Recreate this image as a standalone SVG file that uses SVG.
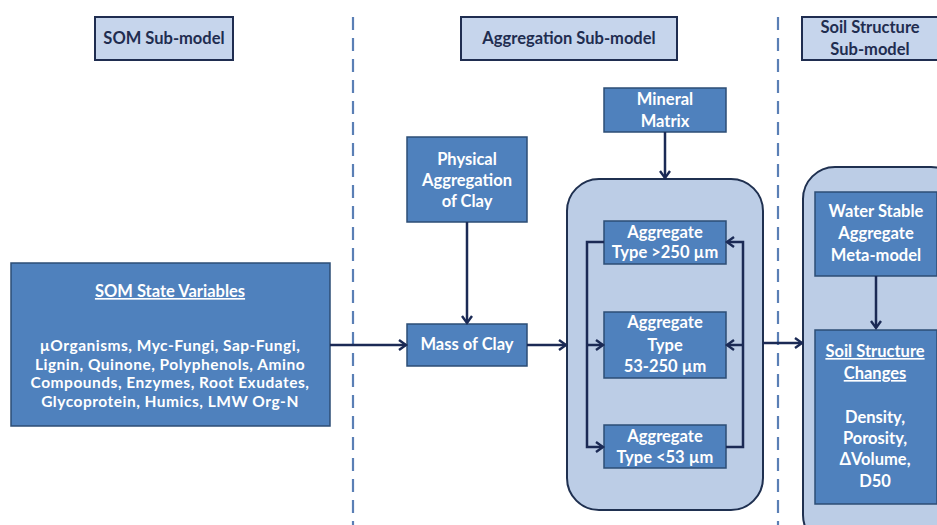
<svg xmlns="http://www.w3.org/2000/svg" width="937" height="525" viewBox="0 0 937 525">
<defs>
<marker id="arr" markerWidth="12" markerHeight="12" refX="9" refY="6" orient="auto" markerUnits="userSpaceOnUse">
<path d="M2,1 L9,6 L2,11" fill="none" stroke="#1b2a55" stroke-width="2.4"/>
</marker>
<style>
.title{fill:#c6d5ec;stroke:#1f2d50;stroke-width:2}
.tt{font-family:Lato,"Liberation Sans",sans-serif;font-weight:bold;font-size:16.5px;fill:#1f2d50;text-anchor:middle}
.box{fill:#4f81bd;stroke:#2c4d75;stroke-width:1.5}
.bt{font-family:Lato,"Liberation Sans",sans-serif;font-weight:bold;font-size:16.5px;fill:#ffffff;text-anchor:middle}
.st{font-size:15.5px;letter-spacing:0.5px}
.cont{fill:#bccde6;stroke:#1f3050;stroke-width:2}
.dash{stroke:#5a7fb5;stroke-width:2.2;stroke-dasharray:13 8;fill:none}
.con{stroke:#1b2a55;stroke-width:2.5;fill:none}
</style>
</defs>
<rect width="937" height="525" fill="#ffffff"/>
<g id="dividers">
<line class="dash" x1="353" y1="17" x2="353" y2="525"/>
<line class="dash" x1="778" y1="17" x2="778" y2="525"/>
</g>
<g id="som-title">
<rect class="title" x="95" y="17" width="138" height="43"/>
<text class="tt" x="164" y="44">SOM Sub-model</text>
</g>
<g id="agg-title">
<rect class="title" x="461" y="17" width="216" height="43"/>
<text class="tt" x="569" y="44">Aggregation Sub-model</text>
</g>
<g id="soil-title">
<rect class="title" x="802" y="17" width="140" height="43"/>
<text class="tt" x="870" y="33">Soil Structure</text>
<text class="tt" x="870" y="55">Sub-model</text>
</g>
<g id="agg-container">
<rect class="cont" x="567" y="179" width="196" height="331" rx="32"/>
</g>
<g id="soil-container">
<rect class="cont" x="803" y="167" width="160" height="380" rx="32"/>
</g>
<g id="som-state">
<rect class="box" x="11" y="263" width="319" height="163"/>
<text class="bt" x="170" y="297" text-decoration="underline">SOM State Variables</text>
<text class="bt st" x="170" y="351">µOrganisms, Myc-Fungi, Sap-Fungi,</text>
<text class="bt st" x="170" y="369.7">Lignin, Quinone, Polyphenols, Amino</text>
<text class="bt st" x="170" y="388.4">Compounds, Enzymes, Root Exudates,</text>
<text class="bt st" x="170" y="407.1">Glycoprotein, Humics, LMW Org-N</text>
</g>
<g id="physical">
<rect class="box" x="407" y="137" width="120" height="85"/>
<text class="bt" x="467" y="165">Physical</text>
<text class="bt" x="467" y="186">Aggregation</text>
<text class="bt" x="467" y="207">of Clay</text>
</g>
<g id="mass-clay">
<rect class="box" x="407" y="324" width="120" height="42"/>
<text class="bt" x="467" y="350">Mass of Clay</text>
</g>
<g id="mineral">
<rect class="box" x="604" y="88" width="122" height="44"/>
<text class="bt" x="665" y="105">Mineral</text>
<text class="bt" x="665" y="127">Matrix</text>
</g>
<g id="agg250">
<rect class="box" x="604" y="221" width="122" height="43"/>
<text class="bt" x="665" y="238">Aggregate</text>
<text class="bt" x="665" y="258">Type &gt;250 µm</text>
</g>
<g id="agg53-250">
<rect class="box" x="604" y="312" width="122" height="66"/>
<text class="bt" x="665" y="328">Aggregate</text>
<text class="bt" x="665" y="351">Type</text>
<text class="bt" x="665" y="372">53-250 µm</text>
</g>
<g id="agg53">
<rect class="box" x="604" y="425" width="122" height="43"/>
<text class="bt" x="665" y="442">Aggregate</text>
<text class="bt" x="665" y="463">Type &lt;53 µm</text>
</g>
<g id="water">
<rect class="box" x="815" y="192" width="122" height="84"/>
<text class="bt" x="876" y="217">Water Stable</text>
<text class="bt" x="876" y="239">Aggregate</text>
<text class="bt" x="876" y="261">Meta-model</text>
</g>
<g id="soil-changes">
<rect class="box" x="815" y="330" width="122" height="174"/>
<text class="bt" x="875" y="357" text-decoration="underline">Soil Structure</text>
<text class="bt" x="875" y="379" text-decoration="underline">Changes</text>
<text class="bt" x="875" y="423">Density,</text>
<text class="bt" x="875" y="444">Porosity,</text>
<text class="bt" x="875" y="465">ΔVolume,</text>
<text class="bt" x="875" y="487">D50</text>
</g>
<g id="connectors">
<line class="con" x1="330" y1="345" x2="406" y2="345" marker-end="url(#arr)"/>
<line class="con" x1="467" y1="222" x2="467" y2="323" marker-end="url(#arr)"/>
<line class="con" x1="527" y1="345" x2="566" y2="345" marker-end="url(#arr)"/>
<line class="con" x1="665" y1="132" x2="665" y2="178" marker-end="url(#arr)"/>
<polyline class="con" points="604,242 587,242 587,447 603,447" marker-end="url(#arr)"/>
<line class="con" x1="587" y1="345" x2="603" y2="345" marker-end="url(#arr)"/>
<polyline class="con" points="726,447 743,447 743,242 727,242" marker-end="url(#arr)"/>
<line class="con" x1="743" y1="345" x2="727" y2="345" marker-end="url(#arr)"/>
<line class="con" x1="763" y1="343" x2="802" y2="343" marker-end="url(#arr)"/>
<line class="con" x1="876" y1="276" x2="876" y2="328" marker-end="url(#arr)"/>
</g>
</svg>
